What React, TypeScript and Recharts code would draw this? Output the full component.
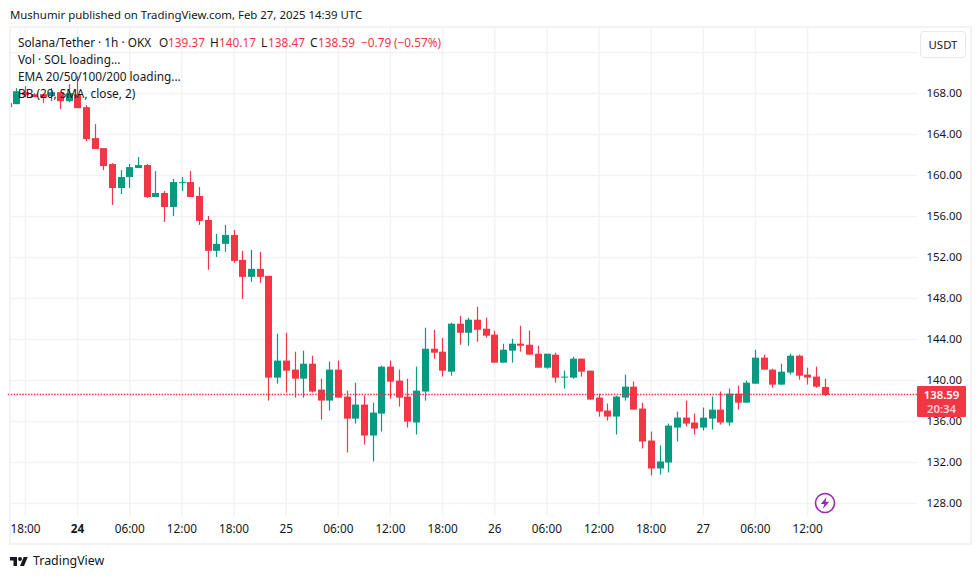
import React from "react";
import { ComposedChart, Bar, XAxis, YAxis, CartesianGrid, ReferenceLine } from "recharts";

const opens = [166.67,166.96,168.13,167.93,167.93,167.74,168.13,167.25,167.93,166.67,163.65,162.67,161.12,158.78,159.85,160.73,161.02,157.9,158.29,156.93,159.27,159.36,158.0,155.66,152.65,153.33,154.2,151.77,150.11,150.89,150.21,140.28,141.94,141.06,140.18,141.64,139.11,138.04,141.06,138.43,136.28,137.65,134.63,136.77,141.35,139.99,138.43,135.9,138.92,143.1,142.81,140.86,145.54,144.66,145.93,145.05,144.47,141.74,142.91,143.59,143.49,142.61,141.25,142.52,140.28,140.28,142.13,140.96,138.33,137.07,136.48,138.33,139.4,137.26,134.14,131.42,132.0,135.41,136.38,135.9,135.41,136.28,137.16,135.9,138.72,137.84,139.69,142.23,141.06,139.6,140.77,142.42,140.57,140.38,139.37];
const highs = [167.15,168.52,168.71,168.03,167.93,168.52,168.13,168.91,169.69,166.86,165.01,162.67,161.21,160.53,161.12,161.8,161.12,160.43,158.49,159.66,159.85,160.43,158.88,156.05,154.3,155.18,154.69,152.65,152.74,152.55,150.21,144.56,144.66,142.81,142.91,142.42,140.18,141.84,141.94,139.01,139.79,138.53,137.84,141.45,141.94,141.06,140.18,141.35,145.15,144.95,144.17,145.64,146.32,146.12,147.19,146.12,144.86,143.59,144.08,145.34,144.86,143.39,142.61,142.71,140.96,142.32,142.13,140.96,138.72,137.75,138.53,140.57,139.89,137.84,135.02,133.66,135.8,136.97,138.04,136.77,137.36,138.43,138.92,139.21,139.5,139.99,143.0,142.52,141.15,141.64,142.61,142.52,141.25,141.35,140.17];
const lows = [166.57,166.96,167.64,167.64,167.06,167.25,166.47,167.15,166.57,163.36,162.58,160.53,157.12,158.19,158.78,160.73,157.81,157.9,155.47,156.05,158.49,157.9,155.18,150.8,152.06,152.55,151.48,147.97,149.63,149.53,138.04,139.69,138.82,138.33,138.33,138.82,136.19,137.07,138.33,132.98,135.8,133.75,132.1,135.02,138.23,137.46,135.41,134.73,138.04,142.13,140.38,140.47,143.49,143.39,143.78,144.17,141.74,141.74,141.74,142.81,142.52,141.25,141.15,139.79,139.21,140.18,140.38,138.14,136.48,136.09,134.73,138.04,137.16,133.37,130.74,130.83,131.03,134.05,135.51,134.73,135.12,135.22,135.7,135.6,137.16,137.84,139.69,141.06,139.3,139.6,140.57,140.08,139.6,139.3,138.47];
const closes = [167.06,168.22,167.84,167.64,167.64,168.13,167.25,168.03,166.57,163.55,162.58,160.92,158.78,159.85,160.82,161.02,157.9,158.29,156.93,159.36,159.36,157.9,155.57,152.65,153.33,154.2,151.67,150.11,150.89,150.11,140.28,141.94,140.96,140.18,141.64,138.92,138.04,141.06,138.33,136.28,137.65,134.63,136.87,141.35,139.89,138.33,135.99,139.01,143.1,142.71,140.96,145.54,144.66,145.93,144.95,144.37,141.74,143.0,143.59,143.39,142.52,141.25,142.61,140.28,140.38,142.13,140.86,138.14,136.97,136.48,138.43,139.4,137.16,134.05,131.42,132.1,135.6,136.38,135.8,135.31,136.38,137.16,135.9,138.72,137.84,139.79,142.23,141.06,139.6,140.86,142.42,140.47,140.28,139.4,138.59];

const priceTicks = [128,132,136,140,144,148,152,156,160,164,168,172];
const hiddenPriceTicks = [172];
const timeTicks = [2,8,14,20,26,32,38,44,50,56,62,68,74,80,86,92];
const timeLabels = ["18:00","24","06:00","12:00","18:00","25","06:00","12:00","18:00","26","06:00","12:00","18:00","27","06:00","12:00"];
const boldTimeLabels = ["24"];
const lastPrice = 138.59;

const UP = "#089981";
const DOWN = "#f23645";
const GRID = "#f2f3f6";
const INK = "#131722";
const FONT = "'Noto Sans', sans-serif";

const rows = opens.map((open, i) => ({ i, open, high: highs[i], low: lows[i], close: closes[i], range: [lows[i], highs[i]] }));

const Candle = (props: any) => {
  const { x, y, width, height, payload } = props;
  const top = Math.min(y, y + height);
  const span = Math.abs(height);
  const perUnit = span / (payload.high - payload.low || 1);
  const color = payload.close >= payload.open ? UP : DOWN;
  const cx = Math.round(x + width / 2 - 0.5) + 0.5;
  const bodyTop = top + (payload.high - Math.max(payload.open, payload.close)) * perUnit;
  const bodyH = Math.max(1, Math.abs(payload.open - payload.close) * perUnit);
  return (
    <g>
      <line x1={cx} x2={cx} y1={top} y2={top + span} stroke={color} strokeWidth={1.2} />
      <rect x={cx - 3.5} y={bodyTop} width={7} height={bodyH} fill={color} />
    </g>
  );
};

const PriceLine = (props: any) => {
  const { x1, x2, y1 } = props;
  const y = Math.round(y1) - 0.5;
  return <line x1={Math.max(x1, 12)} x2={x2 - 3} y1={y} y2={y} stroke={DOWN} strokeWidth={1.4} strokeDasharray="1.5 1.4" />;
};

const PriceTick = (props: any) => {
  const { x, y, payload } = props;
  if (hiddenPriceTicks.includes(payload.value)) return null;
  return (
    <text x={x + 1.5} y={y + 3.5} fontSize={11.4} fontFamily={FONT} fill={INK}>
      {payload.value.toFixed(2)}
    </text>
  );
};

const TimeTick = (props: any) => {
  const { x, y, payload } = props;
  const label = timeLabels[timeTicks.indexOf(payload.value)] ?? "";
  return (
    <text x={x} y={y + 9} textAnchor="middle" fontSize={11.8} fontFamily={FONT} fontWeight={boldTimeLabels.includes(label) ? 700 : 400} fill={INK}>
      {label}
    </text>
  );
};

const abs = (left: number, top: number, extra: React.CSSProperties = {}): React.CSSProperties => ({
  position: "absolute", left, top, fontFamily: FONT, fontSize: 11.8, lineHeight: "16px", color: INK, whiteSpace: "nowrap", ...extra,
});

export default function App() {
  return (
    <div style={{ position: "absolute", left: 0, top: 0, width: 980, height: 579, background: "#fff", overflow: "hidden" }}>
      <div style={abs(10, 7, { fontSize: 11.4 })}>Mushumir published on TradingView.com, Feb 27, 2025 14:39 UTC</div>

      <div style={{ position: "absolute", left: 0, top: 0 }}>
        <ComposedChart width={980} height={579} data={rows} margin={{ top: 27, right: 9, bottom: 27, left: 10 }}>
          <CartesianGrid stroke={GRID} strokeWidth={1.5} syncWithTicks />
          <XAxis dataKey="i" type="number" scale="linear" domain={[0.219, 104.59]} allowDataOverflow ticks={timeTicks} interval={0} height={36} axisLine={false} tickLine={false} tick={<TimeTick />} />
          <YAxis orientation="right" type="number" domain={[126.78, 174.488]} allowDataOverflow ticks={priceTicks} interval={0} width={54} axisLine={false} tickLine={false} tick={<PriceTick />} />
          <ReferenceLine y={lastPrice} shape={<PriceLine />} />
          <Bar dataKey="range" barSize={7} isAnimationActive={false} shape={<Candle />} />
        </ComposedChart>
      </div>

      <div style={{ position: "absolute", left: 9, top: 26, width: 959, height: 515, border: `2px solid ${GRID}`, pointerEvents: "none" }} />

      <div style={abs(18, 34)}>Solana/Tether · 1h · OKX</div>
      <div style={abs(159, 34)}>O</div>
      <div style={abs(168, 34, { color: DOWN })}>139.37</div>
      <div style={abs(210, 34)}>H</div>
      <div style={abs(219, 34, { color: DOWN })}>140.17</div>
      <div style={abs(261, 34)}>L</div>
      <div style={abs(268, 34, { color: DOWN })}>138.47</div>
      <div style={abs(310, 34)}>C</div>
      <div style={abs(318, 34, { color: DOWN })}>138.59</div>
      <div style={abs(361, 34, { color: DOWN })}>−0.79</div>
      <div style={abs(394, 34, { color: DOWN })}>(−0.57%)</div>
      <div style={abs(18, 51)}>Vol · SOL loading...</div>
      <div style={abs(18, 68)}>EMA 20/50/100/200 loading...</div>
      <div style={abs(18, 85)}>BB (20, SMA, close, 2)</div>

      <div style={abs(920, 31, { width: 44, height: 25, border: "1px solid #e6e8ee", borderRadius: 4, background: "#fff", textAlign: "center", lineHeight: "25px", fontSize: 11.4 })}>USDT</div>

      <div style={{ position: "absolute", left: 917, top: 386, width: 49, height: 31, background: DOWN, borderRadius: 1 }} />
      <div style={abs(917, 387, { width: 49, textAlign: "center", color: "#fff", fontWeight: 600, fontSize: 11.4, lineHeight: "15px" })}>138.59</div>
      <div style={abs(917, 401, { width: 49, textAlign: "center", color: "#fcd0d5", fontWeight: 600, fontSize: 11.4, lineHeight: "15px" })}>20:34</div>

      <svg style={{ position: "absolute", left: 814, top: 492 }} width={22} height={22} viewBox="0 0 22 22">
        <circle cx={11} cy={11} r={9.5} fill="#fff" stroke="#9c27b0" strokeWidth={1.6} />
        <path d="M12.5 5 L6.8 12 H10.4 L8.8 17 L15.2 9.8 H11.6 Z" fill="#9c27b0" />
      </svg>

      <svg style={{ position: "absolute", left: 10, top: 555 }} width={18} height={14} viewBox="0 0 36 28">
        <path d="M14 22H7V11H0V4h14v18zM28 22h-8l7.5-18h8L28 22z" fill={INK} />
        <circle cx={20} cy={8} r={4} fill={INK} />
      </svg>
      <div style={abs(33, 553, { fontSize: 12.4 })}>TradingView</div>
    </div>
  );
}
